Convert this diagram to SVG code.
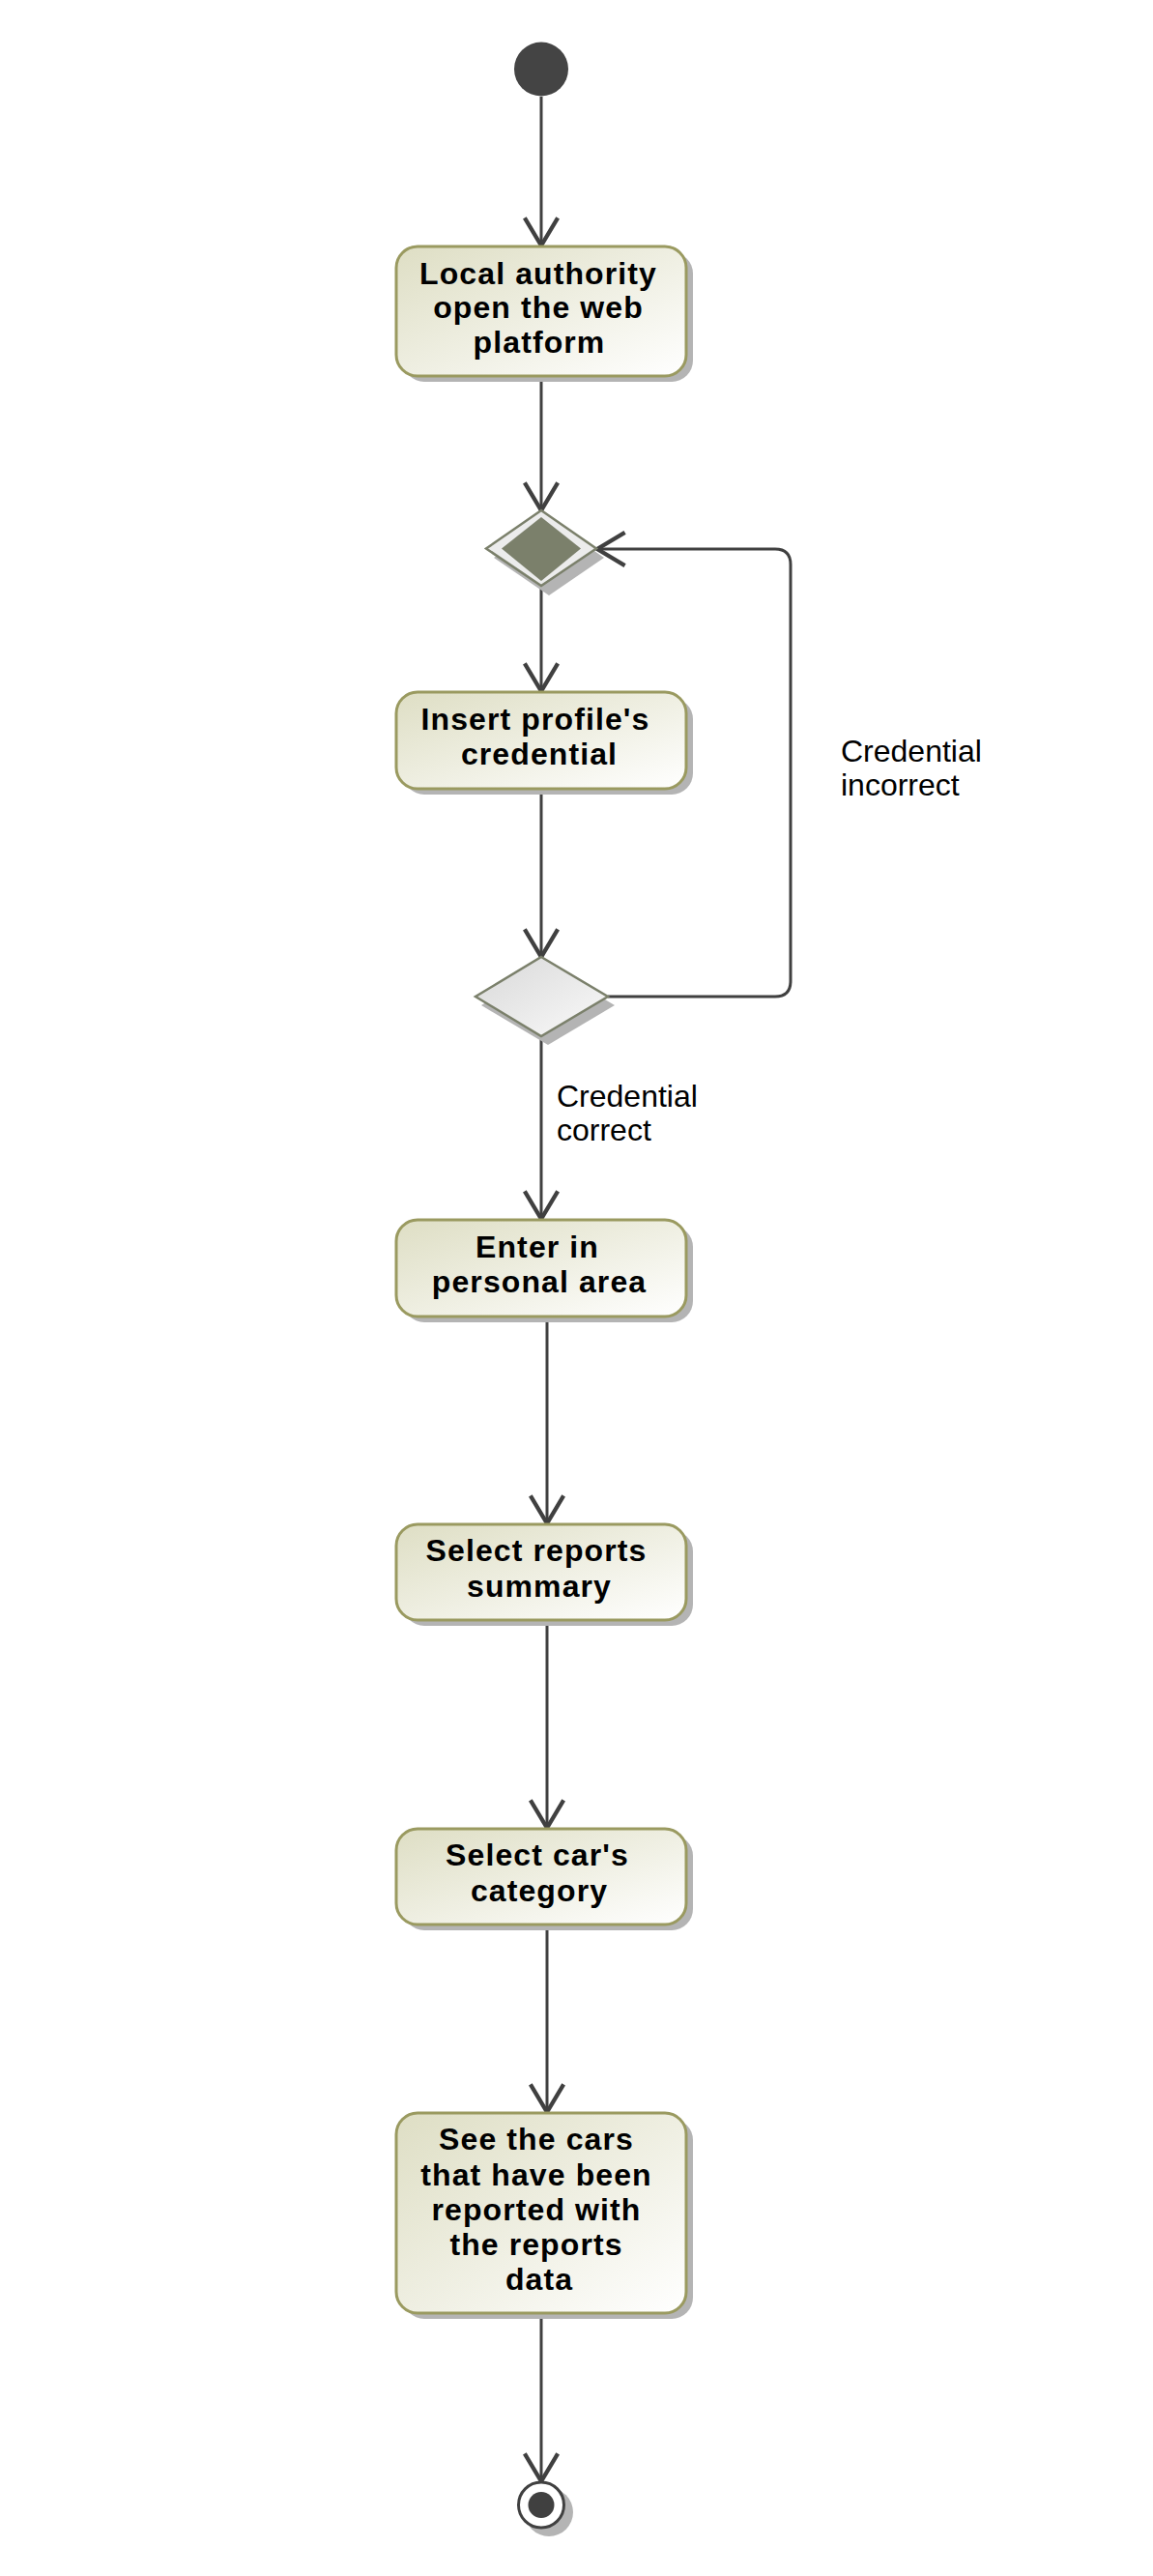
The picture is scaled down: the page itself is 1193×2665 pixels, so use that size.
<svg xmlns="http://www.w3.org/2000/svg" width="1193" height="2665" viewBox="0 0 1193 2665">
  <style>
    .box { stroke: #9a9a60; stroke-width: 3; fill: url(#boxGrad); }
    .shadow { fill: #b4b4b4; stroke: none; }
    .lbl { font-family: "Liberation Sans", Arial, sans-serif; font-size: 32px; font-weight: bold; fill: #000; text-anchor: middle; letter-spacing: 1.1px; }
    .guard { font-family: "Liberation Sans", Arial, sans-serif; font-size: 32px; fill: #000; }
    .edge { fill: none; stroke: #404040; stroke-width: 3; marker-end: url(#arrow); }
  </style>
  <defs>
    <linearGradient id="boxGrad" x1="0" y1="0" x2="1" y2="1">
      <stop offset="0" stop-color="#dedec4"/>
      <stop offset="1" stop-color="#ffffff"/>
    </linearGradient>
    <linearGradient id="decGrad" x1="0" y1="0" x2="1" y2="1">
      <stop offset="0" stop-color="#d8d8d8"/>
      <stop offset="1" stop-color="#fafafa"/>
    </linearGradient>
    <marker id="arrow" markerUnits="userSpaceOnUse" markerWidth="40" markerHeight="40" viewBox="-22 -14 24 28" refX="0" refY="0" orient="auto" overflow="visible">
      <path d="M-20,-12 L0,0 L-20,12" fill="none" stroke="#404040" stroke-width="3"/>
    </marker>
  </defs>
  <rect width="1193" height="2665" fill="#ffffff"/>

  <g id="connectors">
    <path class="edge" d="M560,100 L560,254"/>
    <path class="edge" d="M560,389 L560,528"/>
    <path class="edge" d="M560,606 L560,715"/>
    <path class="edge" d="M560,816 L560,990"/>
    <path class="edge" d="M560,1072 L560,1261"/>
    <path class="edge" d="M629,1031 L802,1031 Q818,1031 818,1015 L818,584 Q818,568 802,568 L618,568"/>
    <path class="edge" d="M566,1362 L566,1576"/>
    <path class="edge" d="M566,1676 L566,1891"/>
    <path class="edge" d="M566,1991 L566,2185"/>
    <path class="edge" d="M560,2393 L560,2567"/>
  </g>

  <g id="start">
    <circle cx="560" cy="71.5" r="28" fill="#444444"/>
  </g>

  <g id="n1">
    <rect class="shadow" x="417" y="261" width="300" height="134" rx="22"/>
    <rect class="box" x="410" y="255" width="300" height="134" rx="22"/>
    <text class="lbl" x="557" y="294">Local authority</text>
    <text class="lbl" x="557" y="329">open the web</text>
    <text class="lbl" x="558" y="365">platform</text>
  </g>

  <g id="merge">
    <path class="shadow" d="M568,537 L625,577 L568,616 L511,577 Z"/>
    <path d="M560,528 L617,567.5 L560,606 L503,567.5 Z" fill="#ececec" stroke="#7b806b" stroke-width="2.5"/>
    <path d="M560,535 L601,567.5 L560,601 L519,567.5 Z" fill="#7b806b"/>
  </g>

  <g id="n2">
    <rect class="shadow" x="417" y="722" width="300" height="100" rx="22"/>
    <rect class="box" x="410" y="716" width="300" height="100" rx="22"/>
    <text class="lbl" x="554" y="755">Insert profile's</text>
    <text class="lbl" x="558" y="791">credential</text>
  </g>

  <g id="decision">
    <path class="shadow" d="M567,999 L636,1040 L567,1081 L498,1040 Z"/>
    <path d="M560,990 L629,1031 L560,1072 L492,1031 Z" fill="url(#decGrad)" stroke="#7b806b" stroke-width="2.5"/>
  </g>

  <g id="guards">
    <text class="guard" x="870" y="788">Credential</text>
    <text class="guard" x="870" y="823">incorrect</text>
    <text class="guard" x="576" y="1145">Credential</text>
    <text class="guard" x="576" y="1180">correct</text>
  </g>

  <g id="n3">
    <rect class="shadow" x="417" y="1268" width="300" height="100" rx="22"/>
    <rect class="box" x="410" y="1262" width="300" height="100" rx="22"/>
    <text class="lbl" x="556" y="1301">Enter in</text>
    <text class="lbl" x="558" y="1337">personal area</text>
  </g>

  <g id="n4">
    <rect class="shadow" x="417" y="1583" width="300" height="99" rx="22"/>
    <rect class="box" x="410" y="1577" width="300" height="99" rx="22"/>
    <text class="lbl" x="555" y="1615">Select reports</text>
    <text class="lbl" x="558" y="1652">summary</text>
  </g>

  <g id="n5">
    <rect class="shadow" x="417" y="1898" width="300" height="99" rx="22"/>
    <rect class="box" x="410" y="1892" width="300" height="99" rx="22"/>
    <text class="lbl" x="556" y="1930">Select car's</text>
    <text class="lbl" x="558" y="1967">category</text>
  </g>

  <g id="n6">
    <rect class="shadow" x="417" y="2192" width="300" height="207" rx="22"/>
    <rect class="box" x="410" y="2186" width="300" height="207" rx="22"/>
    <text class="lbl" x="555" y="2224">See the cars</text>
    <text class="lbl" x="555" y="2261">that have been</text>
    <text class="lbl" x="555" y="2297">reported with</text>
    <text class="lbl" x="555" y="2333">the reports</text>
    <text class="lbl" x="558" y="2369">data</text>
  </g>

  <g id="final">
    <circle cx="568" cy="2599" r="25" fill="#b4b4b4"/>
    <circle cx="560" cy="2591.5" r="23.5" fill="#ffffff" stroke="#404040" stroke-width="3"/>
    <circle cx="560" cy="2591.5" r="13.5" fill="#404040"/>
  </g>
</svg>
